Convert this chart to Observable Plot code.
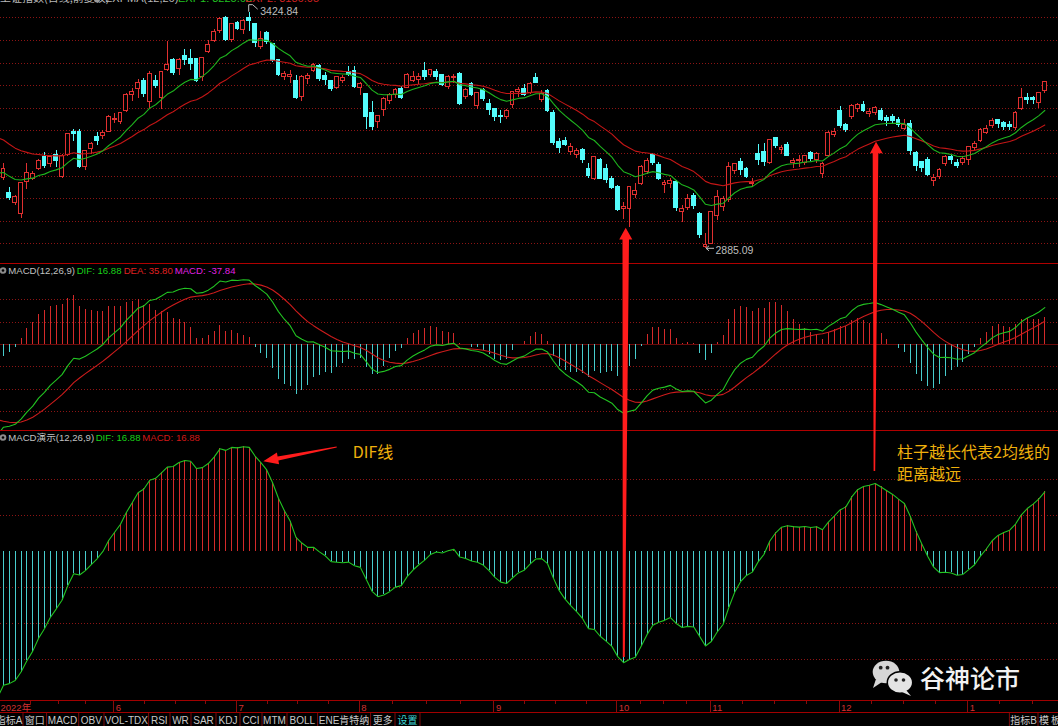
<!DOCTYPE html>
<html><head><meta charset="utf-8">
<script src="https://cdn.jsdelivr.net/npm/d3@7"></script>
<script src="https://cdn.jsdelivr.net/npm/@observablehq/plot@0.6"></script>
<style>
html,body{margin:0;padding:0;background:#000;}
#root{position:relative;width:1058px;height:726px;overflow:hidden;background:#000;}
.panel{position:absolute;left:0;width:1058px;overflow:hidden;}
.panel svg{display:block;}
#overlay{position:absolute;left:0;top:0;pointer-events:none;}
</style></head>
<body><div id="root"></div>
<script>
// ---------------- data ----------------
const monthLabels = ["2022年","6","7","8","9","10","11","12","1"];
const monthStartIndex = [0,19,40,61,84,105,121,143,165];

// closes before the first visible bar, only used to warm up the EMAs
const warmupCloses = [3632.33,3595.18,3586.08,3579.54,3593.52,3567.44,3597.43,3555.26,3521.26,3541.67,3569.91,3558.18,3555.06,3522.57,3524.11,3433.06,3455.67,3394.25,3361.44,
3429.58,3452.63,3479.95,3485.91,3462.95,3428.88,3446.65,3465.05,3468.04,3490.76,3490.61,3457.15,3489.15,3429.96,3451.41,3462.31,
3488.83,3484.19,3481.11,3447.65,3372.86,3293.53,3256.39,3296.09,3309.75,3223.53,3063.97,3170.71,3215.04,3251.07,3253.69,3259.86,3271.03,3250.26,3212.24,3214.50,3203.94,3266.60,3252.20,
3282.72,3283.43,3236.70,3251.85,3167.13,3213.33,3186.24,3225.64,3211.24,3195.52,3194.03,3151.05,3079.81,3086.92,2928.51,2886.43,2958.28,2975.48,3047.06];

const open = [3046,3012,2989,2965,3037,3045,3068,3095,3079,3100,3050,3100,3152,3152,3071,3113,3139,3142,3152,3180,
3174,3200,3235,3250,3269,3220,3268,3228,3294,3316,3295,3325,3318,3318,3277,3335,3360,3381,3412,3362,
3400,3385,3412,3397,3345,3378,3352,3316,3278,3276,3268,3232,3273,3291,3302,3280,3269,3252,3269,3289,
3290,3252,3238,3196,3175,3201,3223,3235,3250,3252,3268,3270,3290,3282,3289,3281,3255,3274,3283,3231,
3260,3210,3247,3215,3204,3188,3185,3214,3243,3249,3241,3275,3225,3246,3196,3128,3130,3105,3100,3110,
3067,3045,3088,3068,3044,3025,2975,2976,3008,3034,3060,3098,3076,3030,3033,3038,2970,2978,3006,2965,
2890,2897,2959,2980,2997,3063,3082,3068,3033,3101,3105,3080,3137,3110,3121,3080,3085,3081,3104,3087,
3055,3096,3145,3200,3168,3185,3203,3212,3192,3195,3200,3183,3185,3180,3158,3170,3104,3083,3088,3040,
3048,3078,3095,3080,3080,3088,3116,3132,3150,3165,3178,3173,3167,3160,3205,3230,3228,3218,3244];
const high = [3080,3024,3006,3037,3080,3062,3088,3105,3098,3110,3100,3148,3157,3158,3110,3128,3150,3155,3190,3193,
3197,3240,3250,3271,3274,3290,3280,3290,3358,3320,3320,3340,3339,3320,3322,3360,3385,3412,3414,3400,
3404,3408,3424.84,3400,3380,3380,3354,3318,3290,3292,3280,3281,3285,3307,3305,3288,3270,3279,3281,3300,
3300,3265,3240,3220,3190,3230,3240,3250,3255,3285,3290,3285,3310,3295,3295,3283,3281,3282,3287,3250,
3265,3242,3250,3225,3205,3200,3202,3245,3252,3260,3265,3285,3246,3249,3200,3137,3140,3125,3115,3115,
3080,3095,3090,3078,3050,3030,2990,3026,3035,3075,3090,3102,3082,3040,3045,3040,2983,3010,3012,2968,
2920,2970,3018,3005,3081,3080,3090,3070,3045,3123,3125,3135,3140,3120,3128,3090,3097,3098,3108,3105,
3082,3152,3160,3210,3172,3214,3216,3220,3205,3210,3205,3190,3191,3185,3180,3178,3108,3085,3093,3055,
3068,3098,3098,3088,3095,3119,3130,3160,3166,3183,3180,3175,3175,3198,3250,3240,3232,3242,3266];
const low = [3041,2995,2983,2955,3020,3042,3063,3068,3070,3070,3045,3096,3130,3069,3063,3100,3120,3135,3150,3170,
3168,3195,3220,3229,3230,3205,3250,3204,3290,3280,3280,3303,3292,3265,3266,3330,3355,3376,3358,3356,
3383,3375,3380,3345,3340,3352,3310,3279,3270,3262,3226,3222,3260,3288,3266,3258,3244,3248,3262,3278,
3250,3235,3158,3155,3160,3188,3215,3228,3225,3250,3265,3260,3270,3275,3270,3255,3248,3262,3212,3225,
3232,3203,3222,3190,3175,3170,3179,3205,3230,3232,3238,3262,3218,3197,3120,3103,3118,3098,3090,3080,
3045,3040,3043,3033,3020,2970,2951,2934,3000,3030,3055,3074,3042,3011,3022,2970,2946,2972,2975,2908,
2885.09,2896,2950,2970,2990,3055,3052,3045,3025,3075,3072,3077,3115,3100,3095,3068,3070,3075,3085,3080,
3045,3093,3140,3160,3150,3180,3196,3195,3185,3190,3175,3165,3170,3162,3155,3098,3062,3060,3050,3028,
3043,3073,3078,3068,3075,3074,3110,3128,3145,3160,3160,3155,3155,3155,3200,3215,3215,3205,3240];
const close = [3067.76,3001.56,3004.14,3035.84,3058.70,3054.99,3084.28,3073.75,3093.70,3085.98,3096.96,3146.57,3146.86,3070.93,3107.46,3123.11,3130.24,3149.06,3186.43,3182.16,
3195.46,3236.37,3241.76,3263.79,3238.95,3284.83,3255.55,3288.91,3305.41,3285.38,3316.79,3315.43,3306.72,3267.20,3320.15,3349.75,3379.19,3409.21,3361.52,3398.62,
3387.64,3405.43,3404.03,3355.35,3364.40,3356.08,3313.58,3281.47,3284.29,3281.74,3228.06,3278.10,3279.43,3304.72,3272.00,3269.97,3250.39,3277.44,3275.76,3282.58,
3253.24,3259.96,3186.27,3163.67,3189.04,3227.03,3236.93,3247.43,3230.02,3281.67,3276.89,3276.09,3277.88,3292.53,3277.54,3258.08,3277.79,3276.22,3215.20,3246.25,
3236.22,3240.73,3227.22,3202.14,3184.98,3186.48,3199.91,3243.45,3246.29,3235.59,3262.05,3263.80,3237.54,3199.92,3126.40,3115.60,3122.41,3117.18,3108.91,3088.37,
3051.23,3093.86,3045.07,3041.20,3024.39,2974.15,2979.79,3025.51,3016.36,3071.26,3084.40,3080.03,3044.38,3035.05,3038.93,2977.56,2976.28,2999.50,2982.90,2915.93,
2893.48,2969.20,3003.37,2997.81,3070.80,3077.82,3064.49,3048.29,3036.13,3087.29,3083.40,3134.08,3119.98,3115.43,3097.24,3085.04,3088.33,3096.91,3089.31,3101.69,
3078.55,3149.75,3151.34,3165.47,3156.14,3211.81,3212.53,3199.62,3197.35,3206.95,3179.04,3176.33,3176.53,3168.65,3167.86,3107.12,3073.77,3068.41,3054.43,3045.87,
3065.57,3095.57,3087.40,3073.70,3089.26,3116.51,3123.52,3155.22,3157.64,3176.08,3169.51,3161.84,3163.45,3195.31,3228.12,3224.24,3224.41,3240.28,3264.81];

const headerDIF = "16.88", headerDEA = "35.80", headerMACD = "-37.84";
const demoDIF = "16.88", demoMACD = "16.88";
const tabItems = ["指标A","窗口","MACD","OBV","VOL-TDX","RSI","WR","SAR","KDJ","CCI","MTM","BOLL","ENE肯特纳","更多","设置"];

// ---------------- style / layout ----------------
const W = 1058, step = 5.85, firstX = 3;
const xDomain = [-firstX/step, (W-firstX)/step];
const UP = "#e03030", DOWN = "#54fcfc";
const BAR_UP = "#d42a2a", BAR_DN = "#48cccc";
const GRID = "#8c1414", ZERO = "#6a0a0a";
const EMA12C = "#1eb41e", EMA26C = "#c41616";
const DIFC = "#22c422", DEAC = "#cc1c1c";
const FONT = '"Liberation Sans", Arial, "Noto Sans CJK SC", sans-serif';
const CJK = '"Noto Sans CJK SC", "Noto Sans", sans-serif';

// ---------------- indicators ----------------
function ema(arr, n){ const a = 2/(n+1); let y = arr[0]; return arr.map(v => (y = a*v + (1-a)*y)); }
const all = warmupCloses.concat(close);
const e12 = ema(all, 12), e26 = ema(all, 26);
const difAll = e12.map((v,k) => v - e26[k]);
const deaAll = ema(difAll.map((v,k)=> k===0 ? 0 : v), 9);
const off = warmupCloses.length;
const lines = d3.range(-1, close.length).map(i => {
  const k = off + i;
  return {i, ema12: e12[k], ema26: e26[k], dif: difAll[k], dea: deaAll[k], macd: 2*(difAll[k]-deaAll[k])};
});
const vis = lines.filter(d => d.i >= 0);
const bars = close.map((c,i) => ({i, o: open[i], h: high[i], l: low[i], c, up: c >= open[i]}));

const root = document.getElementById("root");
function addPanel(top, height, plot){
  const div = document.createElement("div");
  div.className = "panel"; div.style.top = top + "px"; div.style.height = height + "px";
  div.appendChild(plot); root.appendChild(div);
}
const xOpt = {domain: xDomain, range: [0, W], axis: null};
const baseStyle = {background: "#000", color: "#ccc", fontFamily: FONT};

// ---------------- price panel ----------------
const yDom = [d3.min(low), d3.max(high)];
const yRange = [248.3, 11.7];
const yP = d3.scaleLinear(yDom, yRange);
const xS = d3.scaleLinear(xDomain, [0, W]);
const priceGrid = d3.range(11).map(k => yP.invert(17.3 + 22.6*k));
const maxBar = bars.reduce((a,b) => b.h > a.h ? b : a);
const minBar = bars.reduce((a,b) => b.l < a.l ? b : a);

addPanel(0, 263, Plot.plot({
  width: W, height: 263, margin: 0, style: baseStyle,
  x: xOpt, y: {domain: yDom, range: yRange, axis: null}, color: {type: "identity"},
  marks: [
    Plot.ruleY(priceGrid, {stroke: GRID, strokeDasharray: "1,2", shapeRendering: "crispEdges"}),
    Plot.ruleX(bars, {x: "i", y1: "l", y2: "h", stroke: d => d.up ? UP : DOWN, shapeRendering: "crispEdges"}),
    Plot.rect(bars, {x1: d => d.i - 0.33, x2: d => d.i + 0.33, y1: "o", y2: "c",
      fill: d => d.up ? "#000" : DOWN, stroke: d => d.up ? UP : DOWN, shapeRendering: "crispEdges"}),
    Plot.line(lines, {x: "i", y: "ema26", stroke: EMA26C, strokeWidth: 1.1}),
    Plot.line(lines, {x: "i", y: "ema12", stroke: EMA12C, strokeWidth: 1.1}),
    Plot.text([maxBar], {x: "i", y: "h", text: d => d.h.toFixed(2), dx: 11, dy: -1, textAnchor: "start", fill: "#bdbdbd", fontSize: 10.5}),
    Plot.text([minBar], {x: "i", y: "l", text: d => d.l.toFixed(2), dx: 10, dy: 2, textAnchor: "start", fill: "#bdbdbd", fontSize: 10.5})
  ]
}));

// ---------------- MACD panel ----------------
const m1Dom = d3.extent(vis.flatMap(d => [d.dif, d.dea, d.macd]));
const m1Ticks = d3.range(Math.ceil(m1Dom[0]/20)*20, m1Dom[1], 20).filter(v => v !== 0);
addPanel(263, 167, Plot.plot({
  width: W, height: 167, margin: 0, style: baseStyle,
  x: xOpt, y: {domain: m1Dom, range: [163.7, 16.3], axis: null}, color: {type: "identity"},
  marks: [
    Plot.ruleY(m1Ticks, {stroke: GRID, strokeDasharray: "1,2", shapeRendering: "crispEdges"}),
    Plot.ruleY([0], {stroke: ZERO, shapeRendering: "crispEdges"}),
    Plot.ruleX(vis, {x: "i", y1: () => 0, y2: "macd", stroke: d => d.macd >= 0 ? BAR_UP : BAR_DN, shapeRendering: "crispEdges"}),
    Plot.line(lines, {x: "i", y: "dea", stroke: DEAC, strokeWidth: 1.1}),
    Plot.line(lines, {x: "i", y: "dif", stroke: DIFC, strokeWidth: 1.1})
  ]
}));

// ---------------- MACD demo panel ----------------
const m3Dom = d3.extent(vis, d => d.dif);
const m3Ticks = d3.range(Math.ceil(m3Dom[0]/20)*20, m3Dom[1], 20).filter(v => v !== 0);
addPanel(431, 269, Plot.plot({
  width: W, height: 269, margin: 0, style: baseStyle,
  x: xOpt, y: {domain: m3Dom, range: [253.7, 15.3], axis: null}, color: {type: "identity"},
  marks: [
    Plot.ruleY(m3Ticks, {stroke: GRID, strokeDasharray: "1,2", shapeRendering: "crispEdges"}),
    Plot.ruleX(vis, {x: "i", y1: () => 0, y2: "dif", stroke: d => d.dif >= 0 ? BAR_UP : BAR_DN, shapeRendering: "crispEdges"}),
    Plot.line(lines, {x: "i", y: "dif", stroke: DIFC, strokeWidth: 1.1})
  ]
}));

// ---------------- month axis strip ----------------
const quarterTicks = [];
monthStartIndex.forEach((s, k) => {
  const e = k < monthStartIndex.length - 1 ? monthStartIndex[k+1] : s + (s - monthStartIndex[k-1]);
  for (let q = 1; q < 4; q++) quarterTicks.push(s + (e - s) * q / 4);
});
const monthRows = monthStartIndex.map((s,k) => ({s, label: monthLabels[k]}));
addPanel(700, 13, Plot.plot({
  width: W, height: 13, margin: 0, style: baseStyle,
  x: xOpt, y: {domain: [0, 13], range: [0, 13], axis: null}, color: {type: "identity"},
  marks: [
    Plot.ruleX(monthRows.slice(1), {x: "s", dx: -1, stroke: "#8a0a0a", shapeRendering: "crispEdges"}),
    Plot.ruleX(quarterTicks, {x: d => d, y1: () => 0.5, y2: () => 3.5, dx: -1, stroke: "#8a0a0a", shapeRendering: "crispEdges"}),
    Plot.text(monthRows.slice(0,1), {x: "s", y: () => 7, text: "label", dx: -3, textAnchor: "start", fill: "#d03030", fontSize: 9.5, fontFamily: FONT}),
    Plot.text(monthRows.slice(1), {x: "s", y: () => 7, text: "label", dx: 1, textAnchor: "start", fill: "#d03030", fontSize: 9.5, fontFamily: FONT})
  ]
}));

// ---------------- overlay: headers, separators, annotations ----------------
const hx = xS(maxBar.i), hy = yP(maxBar.h), lx = xS(minBar.i), ly = yP(minBar.l);
const tabCenters = [9,34.8,62.6,91.3,126.3,159.3,180.5,203.5,228,251,274.5,302.3,344.1,382.8,407.5];
const tabSeps = [23,46.6,78.7,104,148.6,170,191,216,240,262,287,317.6,370.6,395,420,1009.4,1038];
let s = `<svg id="overlay" width="${W}" height="726" xmlns="http://www.w3.org/2000/svg" font-family='${FONT}'>`;
// price header (cut off at the top edge, as in the screenshot)
s += `<text x="0" y="2" font-size="11" fill="#b8b8b8" font-family='${CJK}'>上证指数(日线,前复权)</text>`;
s += `<circle cx="97" cy="-0.5" r="3" fill="#9a9a9a"/>`;
s += `<text x="105" y="2" font-size="11" fill="#b8b8b8">EXPMA(12,26)</text>`;
s += `<text x="178" y="2" font-size="11" fill="#20c020">EXP1: 3225.66</text>`;
s += `<text x="245" y="2" font-size="11" fill="#d02020">EXP2: 3186.05</text>`;
// high / low markers
s += `<path d="M${hx},${hy} V${hy-7} H${hx+4} L${hx+9},${hy-2.5}" fill="none" stroke="#bdbdbd" stroke-width="1"/>`;
s += `<path d="M${lx+1},${ly} H${lx+9} M${lx+4},${ly-2.5} L${lx+1},${ly} L${lx+4},${ly+2.5}" fill="none" stroke="#bdbdbd" stroke-width="1"/>`;
// separators
s += `<line x1="0" x2="${W}" y1="263.5" y2="263.5" stroke="#b00000"/>`;
s += `<line x1="0" x2="${W}" y1="430.5" y2="430.5" stroke="#b00000"/>`;
s += `<line x1="0" x2="${W}" y1="700.5" y2="700.5" stroke="#a00000"/>`;
s += `<line x1="0" x2="${W}" y1="712.5" y2="712.5" stroke="#a00000"/>`;
// MACD headers
s += `<circle cx="3" cy="270.5" r="3.3" fill="#8c8c8c"/><circle cx="3" cy="270.5" r="1.3" fill="#000"/>`;
s += `<text x="8.3" y="274" font-size="9.6" fill="#c0c0c0">MACD(12,26,9)</text>`;
s += `<text x="76.7" y="274" font-size="9.6" fill="#19d019">DIF: ${headerDIF}</text>`;
s += `<text x="123.7" y="274" font-size="9.6" fill="#e02020">DEA: ${headerDEA}</text>`;
s += `<text x="174.7" y="274" font-size="9.6" fill="#e020e0">MACD: ${headerMACD}</text>`;
s += `<circle cx="3" cy="437.5" r="3.3" fill="#8c8c8c"/><circle cx="3" cy="437.5" r="1.3" fill="#000"/>`;
s += `<text x="8.3" y="441" font-size="9.6" fill="#c0c0c0">MACD<tspan font-family='${CJK}'>演示</tspan>(12,26,9)</text>`;
s += `<text x="95.7" y="441" font-size="9.6" fill="#19d019">DIF: ${demoDIF}</text>`;
s += `<text x="142.3" y="441" font-size="9.6" fill="#d01818">MACD: ${demoMACD}</text>`;
// big red arrows
s += `<polygon points="625.7,227.7 632.3,239.6 629,239.6 624.8,657 622.8,657 622.5,239.6 619.2,239.6" fill="#ff1c1c"/>`;
s += `<polygon points="876,141.7 882.7,153.3 878.3,153.3 875.2,471 873.6,471 872.7,153.3 870,153.3" fill="#ff1c1c"/>`;
s += `<polygon points="263.3,461.3 279.1,464.3 278.4,460.4 336.8,447.6 336.6,446.4 277.6,456.5 276.9,452.5" fill="#ff1c1c"/>`;
// annotation texts
s += `<text x="352.7" y="457.8" font-size="16" fill="#efb00c" font-family='${CJK}'>DIF线</text>`;
s += `<text x="897" y="457.8" font-size="16" fill="#efb00c" font-family='${CJK}'>柱子越长代表2均线的</text>`;
s += `<text x="897" y="479.8" font-size="16" fill="#efb00c" font-family='${CJK}'>距离越远</text>`;
// watermark
s += `<ellipse cx="886" cy="672" rx="13.3" ry="11.3" fill="#d6d6d6"/>`;
s += `<polygon points="876,679 873,688 882,682" fill="#d6d6d6"/>`;
s += `<circle cx="880.7" cy="667.7" r="1.9" fill="#222"/><circle cx="887.5" cy="667.7" r="1.9" fill="#222"/>`;
s += `<ellipse cx="900" cy="682.5" rx="12.7" ry="10.8" fill="#e4e4e4" stroke="#000" stroke-width="1.5"/>`;
s += `<polygon points="906,690 911,696 902,692" fill="#e4e4e4"/>`;
s += `<circle cx="896" cy="680" r="1.8" fill="#222"/><circle cx="903.5" cy="680" r="1.8" fill="#222"/>`;
s += `<text x="920" y="687.5" font-size="25" fill="#f2f2f2" font-weight="500" font-family='${CJK}'>谷神论市</text>`;
// tab bar
tabSeps.forEach(x => { s += `<line x1="${x}" x2="${x}" y1="713" y2="726" stroke="#7a0a0a"/>`; });
tabItems.forEach((t,k) => {
  const fill = t === "设置" ? "#3cd4d4" : "#c8c8c8";
  s += `<text x="${tabCenters[k]}" y="723.5" font-size="10" text-anchor="middle" fill="${fill}">${t}</text>`;
});
s += `<text x="1023.7" y="723.5" font-size="10" text-anchor="middle" fill="#c8c8c8">指标B</text>`;
s += `<text x="1044" y="723.5" font-size="10" text-anchor="middle" fill="#c8c8c8">模</text>`;
s += `<text x="1056" y="723.5" font-size="10" text-anchor="middle" fill="#c8c8c8">板</text>`;
s += `</svg>`;
root.insertAdjacentHTML("beforeend", s);
</script>
</body></html>
